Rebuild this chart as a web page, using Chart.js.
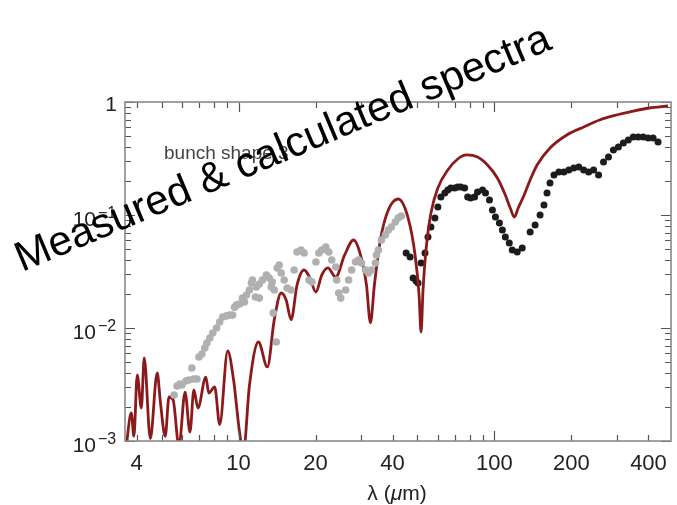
<!DOCTYPE html>
<html>
<head>
<meta charset="utf-8">
<title>Measured &amp; calculated spectra</title>
<script src="https://cdn.jsdelivr.net/npm/chart.js@4.4.1/dist/chart.umd.min.js"></script>
<style>
  html, body { margin: 0; padding: 0; background: #fff; }
  #wrap { width: 677px; height: 505px; position: relative; }
</style>
</head>
<body>
<div id="wrap"><canvas id="spectraChart"></canvas></div>
<script>
// calculated spectrum (red line), wavelength in um
const calcLambda = [3.62, 3.81, 3.90, 4.02, 4.17, 4.28, 4.52, 4.81, 4.95, 5.17, 5.35, 5.55, 5.85, 6.18, 6.46, 6.69, 6.94,
  7.45, 7.65, 8.07, 8.44, 9.07, 9.56, 10.09, 10.45, 11.03, 11.96, 12.96, 13.79, 14.68, 15.35, 16.05, 16.93, 18.03,
  19.02, 20.06, 21.16, 22.33, 23.98, 25.98, 28.16, 29.97, 31.62, 32.77, 33.96, 35.83, 38.48, 42.07, 46.01, 48.97,
  50.75, 51.67, 52.6, 54.03, 56.48, 60.12, 65.74, 71.88, 77.9, 85.93, 93.96, 102.7, 110.3, 115.3, 119.6, 123.9,
  130.7, 137.9, 146.8, 164.9, 191.8, 223.3, 257.6, 299.7, 348.9, 402.4, 476.9];
const calcValue = [0.0008, 0.00177, 0.0011, 0.00384, 0.00196, 0.00543, 0.00105, 0.0040, 0.00221, 0.0011, 0.00245, 0.00231, 0.0009, 0.00271, 0.0012, 0.00283, 0.00196,
  0.00368, 0.00266, 0.00301, 0.0014, 0.00626, 0.0035, 0.0012, 0.0008, 0.0031, 0.00752, 0.00452, 0.0118, 0.0204, 0.0177, 0.0118, 0.024, 0.0326,
  0.0277, 0.0208, 0.0295, 0.034, 0.0283, 0.0443, 0.0601, 0.0443, 0.024, 0.0111, 0.024, 0.0601, 0.1107, 0.1386, 0.094, 0.0443,
  0.0197, 0.0092, 0.0217, 0.049, 0.104, 0.1734, 0.25, 0.313, 0.34, 0.326, 0.277, 0.2125, 0.1503, 0.1153, 0.096, 0.1153,
  0.1503, 0.204, 0.277, 0.392, 0.511, 0.601, 0.693, 0.767, 0.832, 0.885, 0.922];

// measured, short wavelengths (grey dots)
const grayLambda = [5.60, 5.75, 5.91, 6.01, 6.23, 6.40, 6.57, 6.69, 6.88, 7.00, 7.19, 7.38, 7.52, 7.72, 7.93, 8.21, 8.44,
  8.67, 8.98, 9.23, 9.48, 9.65, 9.82, 10.09, 10.36, 10.55, 10.74, 11.03, 11.23, 11.33, 11.64, 11.74, 12.06, 12.06,
  12.39, 12.84, 13.19, 13.43, 13.54, 13.67, 13.79, 14.04, 14.16, 14.42, 14.68, 15.08, 15.49, 16.05, 16.49, 16.93,
  17.55, 18.03, 18.85, 19.36, 20.06, 20.61, 21.16, 21.93, 22.53, 23.13, 23.98, 24.19, 24.63, 25.07, 26.22, 26.93,
  27.67, 28.67, 29.44, 30.24, 31.34, 32.19, 33.07, 34.27, 34.58, 35.20, 36.15, 37.46, 38.48, 39.53, 40.97, 42.07, 43.22];
const grayValue = [0.00255, 0.00307, 0.00319, 0.00313, 0.0034, 0.00347, 0.00443, 0.00354, 0.00354, 0.00553, 0.00589, 0.00665, 0.00736, 0.00816, 0.00904, 0.0100, 0.0113,
  0.0125, 0.0128, 0.0130, 0.0130, 0.0153, 0.0160, 0.0163, 0.0184, 0.0170, 0.0196, 0.0217, 0.0250, 0.0266, 0.0188, 0.0231, 0.0184, 0.0245,
  0.0266, 0.0294, 0.0277, 0.0231, 0.0255, 0.0136, 0.0217, 0.00752, 0.0340, 0.0361, 0.0307, 0.0266, 0.0226, 0.0217, 0.0326, 0.0471,
  0.0490, 0.0461, 0.0266, 0.0255, 0.0384, 0.0461, 0.0490, 0.0521, 0.0471, 0.0400, 0.0347, 0.0266, 0.0204, 0.0184, 0.0217, 0.0266,
  0.0326, 0.0384, 0.0400, 0.0376, 0.0326, 0.0307, 0.0326, 0.0376, 0.0443, 0.0490, 0.0601, 0.0665, 0.0736, 0.0783, 0.0867, 0.0940, 0.0980];

// measured, long wavelengths (black dots)
const blackLambda = [45.19, 46.83, 48.10, 49.41, 50.29, 51.67, 53.55, 55.00, 56.48, 58.54, 60.12, 61.75, 64.00, 65.74, 67.51,
  69.98, 71.88, 73.83, 76.49, 78.59, 80.72, 83.65, 85.93, 89.85, 92.29, 95.63, 98.22, 100.9, 104.6, 107.4, 110.3,
  114.3, 117.4, 122.8, 128.4, 137.9, 144.2, 150.8, 156.2, 160.5, 164.9, 170.9, 178.6, 186.8, 195.3, 204.2, 213.5,
  223.3, 233.5, 244.1, 255.3, 266.9, 279.1, 291.8, 305.1, 319.0, 333.6, 348.9, 364.8, 381.4, 398.8, 417.0, 436.0];
const blackValue = [0.0461, 0.0425, 0.0277, 0.0260, 0.0250, 0.0376, 0.0461, 0.0638, 0.0783, 0.0940, 0.1177, 0.1443, 0.1566, 0.1665, 0.1734,
  0.1734, 0.1770, 0.1770, 0.1734, 0.1443, 0.1413, 0.1443, 0.1600, 0.1665, 0.1566, 0.1358, 0.1107, 0.0960, 0.0849, 0.0736, 0.0638,
  0.0565, 0.0490, 0.0471, 0.0510, 0.0708, 0.0816, 0.1000, 0.1225, 0.1566, 0.1920, 0.2260, 0.2403, 0.2403, 0.2500, 0.2606, 0.2660,
  0.2500, 0.2403, 0.2500, 0.2260, 0.2944, 0.3260, 0.3760, 0.4000, 0.4336, 0.4613, 0.4900, 0.4900, 0.4900, 0.4800, 0.4800, 0.4425];

// axes
const xTickValues = [4, 5, 6, 7, 8, 9, 10, 20, 30, 40, 50, 60, 70, 80, 90, 100, 200, 300, 400];
const xLabelValues = [4, 10, 20, 40, 100, 200, 400];
const xDecades = [10, 100];
const yTickValues = [0.002, 0.003, 0.004, 0.005, 0.006, 0.007, 0.008, 0.009,
  0.02, 0.03, 0.04, 0.05, 0.06, 0.07, 0.08, 0.09, 0.2, 0.3, 0.4, 0.5, 0.6, 0.7, 0.8, 0.9];
const yDecades = [0.001, 0.01, 0.1, 1];
const yExponents = ['\u22123', '\u22122', '\u22121', ''];

const FONT = '"Liberation Sans", Arial, Helvetica, sans-serif';

function toPoints(xs, ys) {
  return xs.map((x, i) => ({ x: x, y: ys[i] }));
}

// frame, inward ticks, y labels with exponents, axis title and annotations
const decorations = {
  id: 'decorations',
  afterDraw(chart) {
    const ctx = chart.ctx;
    const area = chart.chartArea;
    const xs = chart.scales.x;
    const ys = chart.scales.y;
    ctx.save();

    ctx.strokeStyle = '#555';
    ctx.lineWidth = 1.2;
    ctx.beginPath();
    xTickValues.forEach(v => {
      const px = Math.round(xs.getPixelForValue(v)) + 0.5;
      const len = xDecades.includes(v) ? 10 : 6;
      ctx.moveTo(px, area.bottom); ctx.lineTo(px, area.bottom - len);
      ctx.moveTo(px, area.top); ctx.lineTo(px, area.top + len);
    });
    yTickValues.concat(yDecades).forEach(v => {
      const py = Math.round(ys.getPixelForValue(v)) + 0.5;
      const len = yDecades.includes(v) ? 10 : 6;
      ctx.moveTo(area.left, py); ctx.lineTo(area.left + len, py);
      ctx.moveTo(area.right, py); ctx.lineTo(area.right - len, py);
    });
    ctx.stroke();

    ctx.strokeStyle = '#8a8a8a';
    ctx.lineWidth = 1.6;
    ctx.strokeRect(area.left, area.top, area.right - area.left, area.bottom - area.top);

    // y tick labels
    ctx.fillStyle = '#222';
    ctx.textBaseline = 'alphabetic';
    yDecades.forEach((v, i) => {
      const py = ys.getPixelForValue(v);
      const exp = yExponents[i];
      if (!exp) {
        ctx.textAlign = 'right';
        ctx.font = '21px ' + FONT;
        ctx.fillText('1', 117, py + 9);
      } else {
        ctx.textAlign = 'left';
        ctx.font = '16px ' + FONT;
        ctx.fillText(exp, 98, py + 3);
        ctx.textAlign = 'right';
        ctx.font = '21px ' + FONT;
        ctx.fillText('10', 96, py + 11);
      }
    });

    // x axis title: λ (μm) with italic μ
    const parts = [['\u03bb (', ''], ['\u03bc', 'italic '], ['m)', '']];
    let total = 0;
    parts.forEach(p => { ctx.font = p[1] + '21px ' + FONT; total += ctx.measureText(p[0]).width; });
    let tx = 397 - total / 2;
    ctx.textAlign = 'left';
    parts.forEach(p => {
      ctx.font = p[1] + '21px ' + FONT;
      ctx.fillText(p[0], tx, 500);
      tx += ctx.measureText(p[0]).width;
    });

    // panel note
    ctx.fillStyle = '#444';
    ctx.font = '19px ' + FONT;
    ctx.fillText('bunch shape 3', 164, 159);

    // overlaid title
    ctx.fillStyle = '#000';
    ctx.font = '42px ' + FONT;
    ctx.translate(22, 272);
    ctx.rotate(-22.8 * Math.PI / 180);
    ctx.fillText('Measured & calculated spectra', 0, 0);
    ctx.restore();
  }
};

const chart = new Chart(document.getElementById('spectraChart'), {
  type: 'scatter',
  data: {
    datasets: [
      {
        label: 'measured (short)',
        data: toPoints(grayLambda, grayValue),
        backgroundColor: '#b0b0b0',
        borderWidth: 0,
        pointRadius: 3.8
      },
      {
        label: 'calculated',
        data: toPoints(calcLambda, calcValue),
        showLine: true,
        borderColor: '#8c1a1c',
        borderWidth: 2.8,
        pointRadius: 0,
        cubicInterpolationMode: 'monotone',
        fill: false
      },
      {
        label: 'measured (long)',
        data: toPoints(blackLambda, blackValue),
        backgroundColor: '#1c1c1c',
        borderWidth: 0,
        pointRadius: 3.5
      }
    ]
  },
  options: {
    responsive: true,
    maintainAspectRatio: false,
    animation: false,
    events: [],
    layout: { padding: { top: 102, right: 1, left: 0, bottom: 0 } },
    plugins: { legend: { display: false }, tooltip: { enabled: false } },
    scales: {
      x: {
        type: 'logarithmic',
        min: 3.6,
        max: 490,
        grid: { display: false, drawTicks: false },
        border: { display: false },
        afterBuildTicks: (scale) => { scale.ticks = xTickValues.map(v => ({ value: v })); },
        afterFit: (scale) => { scale.height = 64; },
        ticks: {
          autoSkip: false,
          maxRotation: 0,
          minRotation: 0,
          padding: 10,
          color: '#222',
          font: { family: FONT, size: 22 },
          callback: (value) => xLabelValues.includes(value) ? String(value) : ''
        }
      },
      y: {
        type: 'logarithmic',
        min: 0.001,
        max: 1,
        grid: { display: false, drawTicks: false },
        border: { display: false },
        ticks: { display: false },
        afterFit: (scale) => { scale.width = 125; }
      }
    }
  },
  plugins: [decorations]
});
</script>
</body>
</html>
